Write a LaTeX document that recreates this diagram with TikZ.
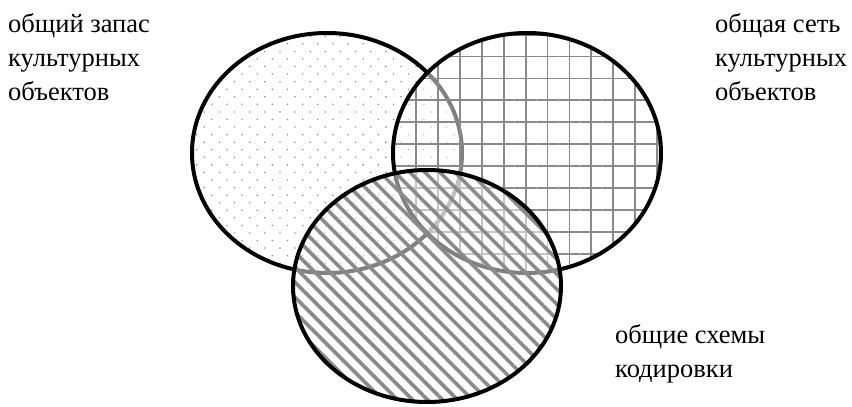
\documentclass[tikz,border=0pt]{standalone}
\usepackage{fontspec}
\setmainfont{Liberation Serif}
\usetikzlibrary{patterns.meta}
\definecolor{hatchgray}{HTML}{8A8A8A}

\begin{document}
\begin{tikzpicture}[x=1pt, y=-1pt,
  veil/.style={fill=white, fill opacity=0.5},
  rim/.style={draw=black, line width=4pt},
  label/.style={anchor=north west, inner sep=0pt, align=left, font=\fontsize{26.5}{34}\selectfont}
]
\useasboundingbox (0,0) rectangle (852,407);
\path[veil] (327,153) ellipse [x radius=135, y radius=120];
\path[pattern={Dots[distance=10.7pt, angle=45, radius=0.9pt]}, pattern color=hatchgray] (327,153) ellipse [x radius=135, y radius=120];
\draw[rim] (327,153) ellipse [x radius=135, y radius=120];
\path[veil] (527,153) ellipse [x radius=134, y radius=120];
\path[pattern={Hatch[distance=21.9pt, angle=0, line width=1.8pt]}, pattern color=hatchgray] (527,153) ellipse [x radius=134, y radius=120];
\draw[rim] (527,153) ellipse [x radius=134, y radius=120];
\path[veil] (427,286) ellipse [x radius=134, y radius=116];
\path[pattern={Lines[distance=10.6pt, angle=-45, line width=3.6pt]}, pattern color=hatchgray] (427,286) ellipse [x radius=134, y radius=116];
\draw[rim] (427,286) ellipse [x radius=134, y radius=116];
\node[label] (stock) at (8,13) {общий запас\\культурных\\объектов};
\node[label] (net) at (715,13) {общая сеть\\культурных\\объектов};
\node[label] (codes) at (615,324) {общие схемы\\кодировки};
\end{tikzpicture}
\end{document}
